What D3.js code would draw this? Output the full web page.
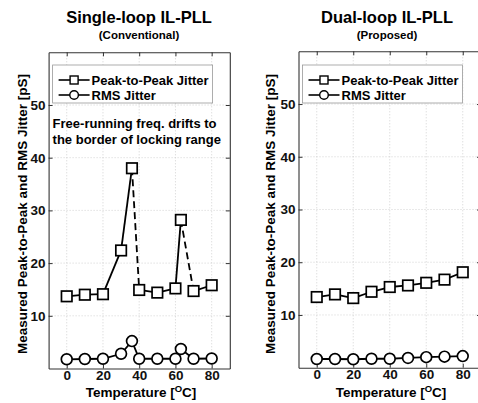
<!DOCTYPE html>
<html>
<head>
<meta charset="utf-8">
<script src="https://cdn.jsdelivr.net/npm/d3@7"></script>
<style>
  body { margin: 0; background: #fff; }
  svg { display: block; font-family: "Liberation Sans", Arial, sans-serif; font-weight: bold; }
</style>
</head>
<body>
<div id="chart"></div>
<script>
// Conventional (single-loop) measurements
var convTemps = [0, 10, 20, 30, 36, 40, 50, 60, 63, 70, 80];
var convPP = [13.7, 14.0, 14.1, 22.4, 38.0, 14.9, 14.4, 15.2, 28.2, 14.7, 15.8];
var convRMS = [1.75, 1.8, 1.85, 2.8, 5.2, 1.85, 1.85, 1.85, 3.7, 1.85, 1.9];
// segments drawn dashed (start index) - frequency drift drops
var convDashedFrom = [4, 8];

// Proposed (dual-loop) measurements
var propTemps = [0, 10, 20, 30, 40, 50, 60, 70, 80];
var propPP = [13.4, 13.9, 13.2, 14.4, 15.3, 15.6, 16.1, 16.7, 18.1];
var propRMS = [1.65, 1.65, 1.6, 1.7, 1.7, 1.85, 2.0, 2.1, 2.2];

var xTicks = [0, 20, 40, 60, 80];
var yTicks = [10, 20, 30, 40, 50];
var legendLabels = ["Peak-to-Peak Jitter", "RMS Jitter"];

var W = 478, H = 403;

var svg = d3.select("#chart").append("svg")
  .attr("width", W)
  .attr("height", H);

svg.append("rect").attr("width", W).attr("height", H).attr("fill", "#fff");

function drawPanel(opts) {
  var x = d3.scaleLinear().domain([-10, 90]).range([opts.left, opts.right]);
  var y = d3.scaleLinear().domain([0, 60]).range([opts.bottom, opts.top]);
  var g = svg.append("g");

  // titles
  g.append("text")
    .attr("x", opts.titleX).attr("y", 23)
    .attr("text-anchor", "middle")
    .style("font-size", "16.5px")
    .text(opts.title);
  g.append("text")
    .attr("x", opts.titleX).attr("y", 39)
    .attr("text-anchor", "middle")
    .style("font-size", "11.5px")
    .text(opts.subtitle);

  // grid
  g.selectAll(".vgrid").data(xTicks).enter().append("line")
    .attr("x1", function(d) { return x(d); })
    .attr("x2", function(d) { return x(d); })
    .attr("y1", opts.top).attr("y2", opts.bottom)
    .attr("stroke", "#c8c8c8").attr("stroke-width", 0.8)
    .attr("stroke-dasharray", "1,2");
  g.selectAll(".hgrid").data(yTicks).enter().append("line")
    .attr("x1", opts.left).attr("x2", opts.right)
    .attr("y1", function(d) { return y(d); })
    .attr("y2", function(d) { return y(d); })
    .attr("stroke", "#c8c8c8").attr("stroke-width", 0.8)
    .attr("stroke-dasharray", "1,2");

  // axes box with inward ticks
  g.append("g").attr("transform", "translate(0," + opts.bottom + ")")
    .call(d3.axisBottom(x).tickValues(xTicks).tickSizeInner(-4).tickSizeOuter(0).tickPadding(2));
  g.append("g").attr("transform", "translate(0," + opts.top + ")")
    .call(d3.axisTop(x).tickValues(xTicks).tickSizeInner(-4).tickSizeOuter(0).tickFormat(""));
  g.append("g").attr("transform", "translate(" + opts.left + ",0)")
    .call(d3.axisLeft(y).tickValues(yTicks).tickSizeInner(-4).tickSizeOuter(0).tickPadding(3));
  g.append("g").attr("transform", "translate(" + opts.right + ",0)")
    .call(d3.axisRight(y).tickValues(yTicks).tickSizeInner(-4).tickSizeOuter(0).tickFormat(""));

  g.selectAll(".domain").attr("stroke", "#333").attr("stroke-width", 1.1);
  g.selectAll(".tick line").attr("stroke", "#333");
  g.selectAll(".tick text")
    .style("font-size", "13.5px")
    .style("font-family", "'Liberation Sans', Arial, sans-serif")
    .style("font-weight", "bold")
    .attr("fill", "#111");

  // axis labels
  g.append("text")
    .attr("transform", "translate(" + opts.yLabelX + "," + opts.yLabelY + ") rotate(-90)")
    .attr("text-anchor", "middle")
    .style("font-size", "13.5px")
    .text("Measured Peak-to-Peak and RMS Jitter [pS]");

  var xl = g.append("text")
    .attr("x", opts.xLabelX).attr("y", 397)
    .attr("text-anchor", "middle")
    .style("font-size", "13.5px");
  xl.append("tspan").text("Temperature [");
  xl.append("tspan").attr("dy", -5).style("font-size", "9.5px").text("O");
  xl.append("tspan").attr("dy", 5).text("C]");

  // series
  var ppPts = opts.temps.map(function(t, i) { return [t, opts.pp[i]]; });
  var rmsPts = opts.temps.map(function(t, i) { return [t, opts.rms[i]]; });
  var line = d3.line().x(function(d) { return x(d[0]); }).y(function(d) { return y(d[1]); });

  for (var i = 0; i < ppPts.length - 1; i++) {
    var dashed = opts.dashedFrom.indexOf(i) > -1;
    g.append("path")
      .attr("d", line([ppPts[i], ppPts[i + 1]]))
      .attr("fill", "none").attr("stroke", "#000").attr("stroke-width", 1.8)
      .attr("stroke-dasharray", dashed ? "7,4" : null);
  }
  g.append("path")
    .attr("d", line(rmsPts))
    .attr("fill", "none").attr("stroke", "#000").attr("stroke-width", 1.8);

  var ms = 10.5;
  g.selectAll(".sq").data(ppPts).enter().append("rect")
    .attr("x", function(d) { return x(d[0]) - ms / 2; })
    .attr("y", function(d) { return y(d[1]) - ms / 2; })
    .attr("width", ms).attr("height", ms)
    .attr("fill", "#fff").attr("stroke", "#000").attr("stroke-width", 1.7);
  g.selectAll(".ci").data(rmsPts).enter().append("circle")
    .attr("cx", function(d) { return x(d[0]); })
    .attr("cy", function(d) { return y(d[1]); })
    .attr("r", 5.4)
    .attr("fill", "#fff").attr("stroke", "#000").attr("stroke-width", 1.7);

  // legend
  var lx = opts.left + 4, ly = 65;
  g.append("rect")
    .attr("x", lx).attr("y", ly).attr("width", 160).attr("height", 38)
    .attr("fill", "#fff").attr("stroke", "#999").attr("stroke-width", 0.8);
  legendLabels.forEach(function(lab, k) {
    var yy = ly + 15 + k * 15;
    g.append("line")
      .attr("x1", lx + 6).attr("x2", lx + 37).attr("y1", yy).attr("y2", yy)
      .attr("stroke", "#000").attr("stroke-width", 1.6);
    if (k === 0) {
      g.append("rect")
        .attr("x", lx + 21.5 - 4).attr("y", yy - 4).attr("width", 8).attr("height", 8)
        .attr("fill", "#fff").attr("stroke", "#000").attr("stroke-width", 1.4);
    } else {
      g.append("circle")
        .attr("cx", lx + 21.5).attr("cy", yy).attr("r", 4.3)
        .attr("fill", "#fff").attr("stroke", "#000").attr("stroke-width", 1.4);
    }
    g.append("text")
      .attr("x", lx + 39).attr("y", yy + 4.5)
      .style("font-size", "13px")
      .text(lab);
  });

  if (opts.note) {
    opts.note.forEach(function(s, k) {
      g.append("text")
        .attr("x", opts.left + 4).attr("y", 128 + k * 16)
        .style("font-size", "13px")
        .text(s);
    });
  }
}

drawPanel({
  left: 48.6, right: 229.8, top: 52.3, bottom: 368.5,
  titleX: 139, xLabelX: 141, yLabelX: 27, yLabelY: 214,
  title: "Single-loop IL-PLL", subtitle: "(Conventional)",
  temps: convTemps, pp: convPP, rms: convRMS, dashedFrom: convDashedFrom,
  note: ["Free-running freq. drifts to", "the border of locking range"]
});

drawPanel({
  left: 298.5, right: 481, top: 51.3, bottom: 367.7,
  titleX: 387, xLabelX: 391, yLabelX: 275, yLabelY: 214,
  title: "Dual-loop IL-PLL", subtitle: "(Proposed)",
  temps: propTemps, pp: propPP, rms: propRMS, dashedFrom: []
});
</script>
</body>
</html>
